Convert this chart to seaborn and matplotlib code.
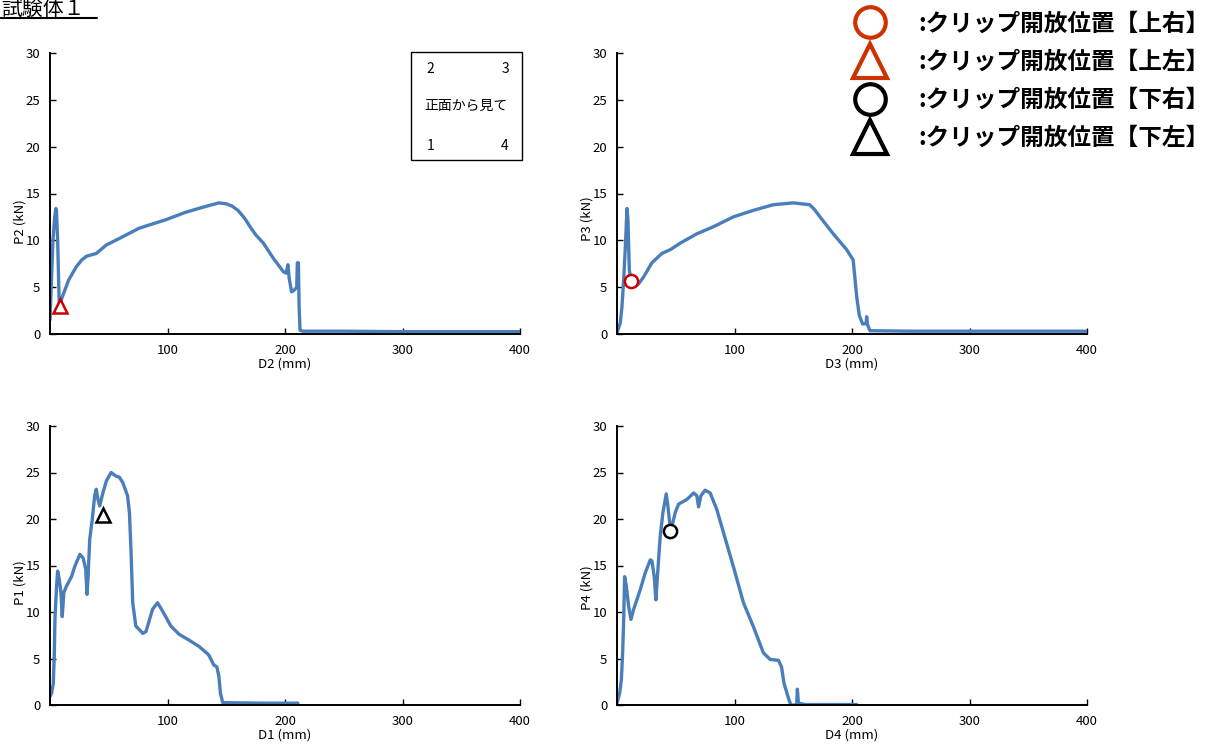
import matplotlib
matplotlib.use("Agg")
import matplotlib.pyplot as plt
from matplotlib.lines import Line2D
from matplotlib.patches import Rectangle
import seaborn as sns
import pandas as pd

sns.set_theme(style="white")
plt.rcParams['font.family'] = ['Noto Sans CJK JP', 'DejaVu Sans']
plt.rcParams['text.color'] = 'black'

# ---------------- data ----------------
title_text = "試験体１"
legend_labels = [":クリップ開放位置【上右】", ":クリップ開放位置【上左】",
                 ":クリップ開放位置【下右】", ":クリップ開放位置【下左】"]
box_labels = ["2", "3", "正面から見て", "1", "4"]

d2 = [0, 1, 2.5, 4, 5, 5.5, 6.5, 7.9, 10, 12.7, 16, 22.5, 27, 31, 39.4, 47.9, 59, 76, 98.6,
      115.5, 132, 143.7, 150, 155, 160, 166, 170, 175, 181.6, 190, 198.6, 200.9, 202.5, 203.5,
      205.6, 208, 210, 210.5, 211.4, 212, 212.8, 215, 250, 300, 350, 400]
p2 = [1.5, 5, 10, 12.5, 13.4, 13.2, 10, 2.9, 3.8, 4.7, 5.8, 7.2, 7.9, 8.3, 8.6, 9.5, 10.2, 11.3,
      12.2, 13.0, 13.6, 14.0, 13.9, 13.65, 13.2, 12.3, 11.5, 10.6, 9.7, 8.1, 6.65, 6.5, 7.4, 6.0,
      4.5, 4.7, 5.0, 7.6, 7.6, 3.0, 0.4, 0.3, 0.3, 0.25, 0.25, 0.25]

d3 = [0, 2.8, 4.2, 5.7, 7.1, 8.5, 9.3, 10.5, 11.9, 15.6, 18, 22.7, 29.7, 38.2, 45.3, 53.8, 68,
      82, 99, 116, 133, 150, 164, 168, 172.8, 184, 195.5, 201, 204, 206.2, 209, 212, 212.5, 213,
      214, 215.3, 250, 300, 350, 400]
p3 = [0.1, 1.2, 2.9, 5.8, 9.3, 13.4, 12.2, 6.8, 5.7, 5.1, 5.3, 6.1, 7.6, 8.6, 9.0, 9.7, 10.7,
      11.45, 12.5, 13.2, 13.8, 14.0, 13.8, 13.3, 12.5, 10.7, 9.0, 7.9, 3.98, 2.0, 1.07, 1.1, 1.85,
      1.1, 0.75, 0.35, 0.3, 0.3, 0.3, 0.3]

d1 = [0, 1.4, 2.8, 3.7, 4.2, 5.6, 6.5, 7.9, 9.3, 10.4, 11.8, 14.1, 18.3, 21.1, 25.4, 28.2, 30.4,
      31.5, 32.4, 33.8, 36, 38, 39.4, 40.8, 42.3, 45, 48, 52, 56.3, 59, 62, 66, 67.6, 69, 70.4,
      73, 79, 81.7, 87.3, 91.5, 95.8, 102.8, 109.9, 118, 126.8, 135, 139.4, 142, 143.7, 145, 147,
      180, 211]
p1 = [0.9, 1.3, 2.3, 5.6, 9.2, 12.8, 14.4, 13.5, 12.1, 9.5, 12.1, 12.8, 13.8, 14.9, 16.2, 15.8,
      14.6, 11.9, 13.8, 17.8, 20, 22.5, 23.2, 22.1, 21.4, 22.8, 24.1, 25.0, 24.6, 24.5, 23.9, 22.5,
      20.7, 16.4, 11, 8.5, 7.7, 7.9, 10.3, 11.0, 10.1, 8.5, 7.6, 7.0, 6.3, 5.4, 4.3, 4.1, 3.1, 1.3,
      0.25, 0.2, 0.2]

d4 = [0, 2.3, 3.7, 4.8, 5.7, 6.5, 7.9, 9.9, 11.9, 14.2, 19.8, 24, 28.3, 29.7, 31.7, 33.1, 34.6,
      36.8, 39.1, 41.9, 43.3, 44.8, 46.7, 49.6, 52.4, 59.5, 65.2, 68, 69.4, 71.4, 75, 79.3, 85,
      90.7, 99, 107.6, 116, 124.6, 130.3, 137.4, 140, 142.2, 146, 148, 151.6, 153, 153.5, 154.4,
      160, 204]
p4 = [0.2, 1.3, 2.7, 5.6, 9.2, 13.8, 12.8, 10.6, 9.2, 10.3, 12.4, 14.2, 15.6, 15.5, 13.8, 11.3,
      14.2, 18.2, 20.7, 22.7, 21.4, 19.6, 19.2, 20.7, 21.6, 22.1, 22.8, 22.5, 21.3, 22.5, 23.1,
      22.8, 21, 18.5, 14.9, 11.0, 8.45, 5.6, 4.9, 4.8, 4.1, 2.3, 0.7, 0.0, 0.0, 0.2, 1.7, 0.2,
      0.05, 0.05]

# clip-open positions (x, y)
mark_p2 = (8.5, 3.0)    # upper-left (red triangle)
mark_p3 = (11.9, 5.7)   # upper-right (red circle)
mark_p1 = (45, 20.4)    # lower-left (black triangle)
mark_p4 = (45.3, 18.7)  # lower-right (black circle)

xticks = [100, 200, 300, 400]
yticks = [0, 5, 10, 15, 20, 25, 30]

# ---------------- style ----------------
LINE = "#4A7EBB"
RED = "#CC0000"
ORANGE = "#CC3300"

W, H = 1223, 749
fig = plt.figure(figsize=(W / 100, H / 100), dpi=100)


def frac(x0, y0, x1, y1):
    return [x0 / W, 1 - y1 / H, (x1 - x0) / W, (y1 - y0) / H]


panels = [
    (frac(50, 53, 520, 334), d2, p2, "D2 (mm)", "P2 (kN)", mark_p2, "^", RED, 0.40),
    (frac(617, 53, 1087, 334), d3, p3, "D3 (mm)", "P3 (kN)", mark_p3, "o", RED, 0.41),
    (frac(50, 426, 520, 705), d1, p1, "D1 (mm)", "P1 (kN)", mark_p1, "^", "black", 0.44),
    (frac(617, 426, 1087, 705), d4, p4, "D4 (mm)", "P4 (kN)", mark_p4, "o", "black", 0.42),
]

axes = []
for rect, xs, ys, xl, yl, mk, mshape, mcol, ylpos in panels:
    ax = fig.add_axes(rect)
    axes.append(ax)
    df = pd.DataFrame({"x": xs, "y": ys})
    sns.lineplot(data=df, x="x", y="y", ax=ax, sort=False, estimator=None,
                 color=LINE, linewidth=2.4)
    msize = 10.5 if mshape == "^" else 9.5
    ax.plot([mk[0]], [mk[1]], marker=mshape, markersize=msize, markerfacecolor="white",
            markeredgecolor=mcol, markeredgewidth=1.8, linestyle="none", zorder=5)
    ax.set_xlim(0, 400)
    ax.set_ylim(0, 30)
    ax.set_xticks(xticks)
    ax.set_yticks(yticks)
    ax.tick_params(direction="in", length=4, width=1, labelsize=9.5, color="black",
                   labelcolor="black", pad=7)
    ax.tick_params(axis="x", bottom=True)
    ax.tick_params(axis="y", left=True)
    for s in ("top", "right"):
        ax.spines[s].set_visible(False)
    for s in ("left", "bottom"):
        ax.spines[s].set_color("black")
        ax.spines[s].set_linewidth(1.4)
    ax.set_xlabel(xl, fontsize=9.5, color="black")
    ax.set_ylabel(yl, fontsize=9.5, color="black")
    ax.xaxis.set_label_coords(0.5, -0.085)
    ax.yaxis.set_label_coords(-0.05, ylpos)
    ax.set_facecolor("white")

# orientation box in P2 panel
ax0 = axes[0]
ax0.add_patch(Rectangle((0.768, 0.619), 0.236, 0.385, transform=ax0.transAxes,
                        fill=False, edgecolor="black", linewidth=1.0, clip_on=False))
box_pos = [(0.809, 0.943), (0.968, 0.943), (0.885, 0.811), (0.809, 0.669), (0.968, 0.669)]
for (bx, by), t in zip(box_pos, box_labels):
    ax0.text(bx, by, t, transform=ax0.transAxes, ha="center", va="center", fontsize=10,
             color="black")

# title (underlined)
fig.text(1 / W, 1 - 15 / H, title_text, fontsize=15, ha="left", va="baseline", color="black")
fig.add_artist(Line2D([0, 97 / W], [1 - 18 / H, 1 - 18 / H], color="black", linewidth=1.5))

# legend
handles = [
    Line2D([], [], marker="o", linestyle="none", markersize=22, markerfacecolor="white",
           markeredgecolor=ORANGE, markeredgewidth=3),
    Line2D([], [], marker="^", linestyle="none", markersize=24, markerfacecolor="white",
           markeredgecolor=ORANGE, markeredgewidth=3),
    Line2D([], [], marker="o", linestyle="none", markersize=22, markerfacecolor="white",
           markeredgecolor="black", markeredgewidth=3),
    Line2D([], [], marker="^", linestyle="none", markersize=24, markerfacecolor="white",
           markeredgecolor="black", markeredgewidth=3),
]
leg = fig.legend(handles, legend_labels, loc="upper left", bbox_to_anchor=(850 / W, 1 - 7 / H),
                 frameon=False, fontsize=17, handlelength=1.3, handletextpad=1.4,
                 labelspacing=0.6, borderpad=0.2, borderaxespad=0)
for t in leg.get_texts():
    t.set_fontweight("bold")
    t.set_color("black")

fig.savefig("out.png", dpi=100, facecolor="white")
